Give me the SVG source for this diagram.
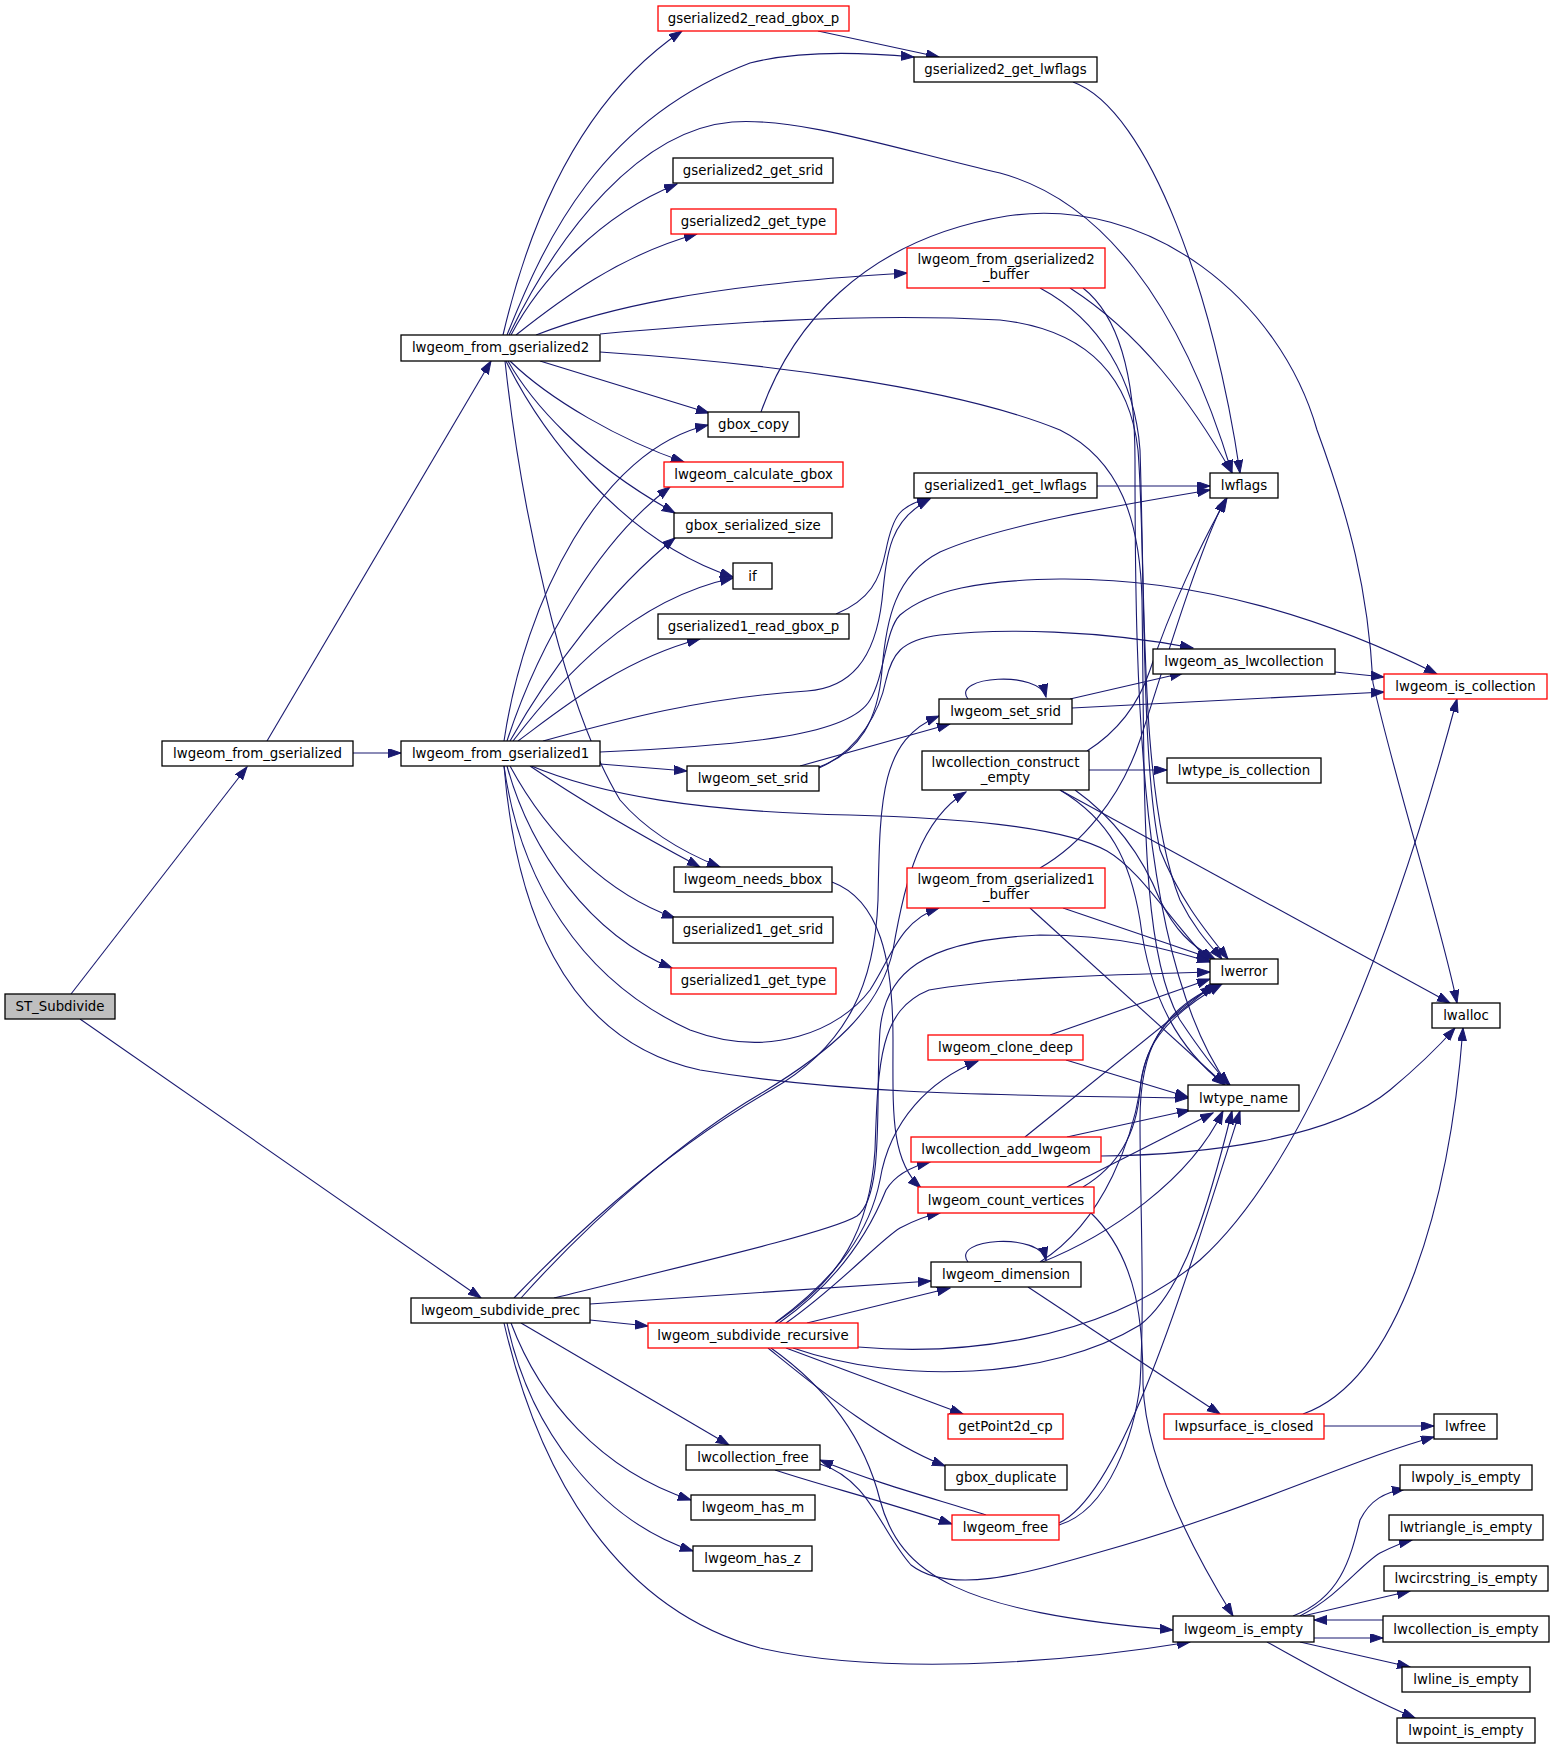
<svg xmlns="http://www.w3.org/2000/svg" width="1555" height="1749" viewBox="0 0 1555 1749">
<style>
.node rect{fill:#ffffff;stroke:#000000;stroke-width:1.3}
.node.red rect{stroke:#ff0000}
.node.root rect{fill:#bfbfbf}
.node text{font-family:"DejaVu Sans","Liberation Sans",sans-serif;font-size:13.33px;text-anchor:middle;fill:#000000}
.e{fill:none;stroke:#191970;stroke-width:1.1;marker-end:url(#ah)}
</style>
<defs>
<marker id="ah" markerUnits="userSpaceOnUse" markerWidth="14" markerHeight="10" refX="13" refY="4.5" orient="auto">
<path d="M0,0 L13,4.5 L0,9 z" fill="#191970" stroke="#191970" stroke-width="1"/>
</marker>
</defs>
<rect x="0" y="0" width="1555" height="1749" fill="#ffffff"/>
<g id="edges">
<path class="e" d="M71,994 L247,767"/>
<path class="e" d="M80,1019 L481,1298"/>
<path class="e" d="M353,753 L401,753"/>
<path class="e" d="M267,741 L491,361"/>
<path class="e" d="M503,335 C530,220 580,100 682,31"/>
<path class="e" d="M507,335 C545,240 600,120 750,63 C800,50 860,52 914,57"/>
<path class="e" d="M509,335 C560,230 640,130 732,122 C800,117 900,150 1000,173 C1100,200 1180,300 1232,473"/>
<path class="e" d="M511,335 C540,280 600,215 677,184"/>
<path class="e" d="M516,335 C560,300 620,255 697,234"/>
<path class="e" d="M536,335 C600,310 700,285 907,273"/>
<path class="e" d="M600,334 C700,325 850,312 1000,320 C1090,330 1130,380 1138,450 C1146,550 1140,760 1160,850 C1180,900 1205,930 1228,959"/>
<path class="e" d="M600,352 C750,362 950,385 1060,430 C1120,460 1140,520 1142,600 C1145,800 1140,950 1180,1020 C1200,1050 1215,1070 1230,1085"/>
<path class="e" d="M540,361 L709,413"/>
<path class="e" d="M510,361 C550,400 620,440 684,462"/>
<path class="e" d="M508,361 C530,400 580,460 675,513"/>
<path class="e" d="M506,361 C540,430 620,540 733,577"/>
<path class="e" d="M505,361 C520,500 560,700 620,800 C650,835 690,855 720,867"/>
<path class="e" d="M504,741 C525,600 600,450 708,425"/>
<path class="e" d="M507,741 C540,640 600,540 670,487"/>
<path class="e" d="M510,741 C550,670 610,590 675,538"/>
<path class="e" d="M513,741 C560,680 630,600 733,578"/>
<path class="e" d="M518,741 C560,710 620,660 700,639"/>
<path class="e" d="M543,741 C620,720 700,698 807,691 C850,688 875,660 882,600 C887,550 890,520 930,499"/>
<path class="e" d="M600,752 C750,745 850,735 870,700 C885,675 885,630 900,615 C930,590 980,580 1060,579 C1200,578 1330,620 1437,674"/>
<path class="e" d="M600,764 L687,771"/>
<path class="e" d="M529,765 C600,795 700,812 850,815 C950,818 1060,825 1107,851 C1140,870 1170,920 1210,962"/>
<path class="e" d="M530,766 C580,800 640,835 700,867"/>
<path class="e" d="M510,766 C550,840 610,895 675,918"/>
<path class="e" d="M507,766 C530,850 590,935 672,968"/>
<path class="e" d="M504,766 C520,880 580,980 690,1030 C770,1060 840,1030 870,990 C890,960 900,920 939,908"/>
<path class="e" d="M504,766 C515,900 560,1040 700,1070 C850,1095 1000,1095 1188,1098"/>
<path class="e" d="M800,766 L950,724"/>
<path class="e" d="M819,767 C860,752 878,720 882,670 C886,620 895,575 940,552 C1000,525 1120,505 1210,490"/>
<path class="e" d="M819,768 C860,750 880,710 886,680 C892,655 900,640 940,635 C1000,628 1100,630 1193,648"/>
<path class="e" d="M968,699 C950,676 1040,670 1046,697"/>
<path class="e" d="M1070,699 L1183,673"/>
<path class="e" d="M1072,708 L1384,692"/>
<path class="e" d="M1335,672 L1384,677"/>
<path class="e" d="M1089,770 L1167,770"/>
<path class="e" d="M1087,751 C1120,730 1140,700 1150,670 C1170,610 1200,545 1227,498"/>
<path class="e" d="M1075,790 C1110,815 1140,850 1160,900 C1175,930 1190,945 1215,959"/>
<path class="e" d="M1060,790 C1110,820 1130,860 1140,920 C1150,1000 1180,1050 1225,1085"/>
<path class="e" d="M1060,790 L1450,1003"/>
<path class="e" d="M1070,288 C1140,333 1190,400 1232,473"/>
<path class="e" d="M1040,288 C1100,320 1135,380 1140,450 C1145,600 1140,800 1180,900 C1195,930 1210,945 1222,959"/>
<path class="e" d="M1083,288 C1120,317 1135,380 1135,460 C1135,700 1140,960 1228,1085"/>
<path class="e" d="M761,412 C790,330 860,240 1007,216 C1150,195 1280,300 1317,430 C1350,520 1368,590 1373,683 C1400,800 1440,920 1457,1003"/>
<path class="e" d="M818,31 L939,57"/>
<path class="e" d="M1073,82 C1150,110 1215,300 1240,473"/>
<path class="e" d="M836,614 C870,600 880,580 886,550 C893,515 900,505 930,498"/>
<path class="e" d="M1097,486 L1210,486"/>
<path class="e" d="M832,882 C880,900 893,960 893,1040 C893,1110 890,1160 921,1188"/>
<path class="e" d="M1040,868 C1080,845 1120,800 1140,740 C1160,680 1195,560 1225,499"/>
<path class="e" d="M1063,908 L1210,958"/>
<path class="e" d="M1030,908 L1225,1085"/>
<path class="e" d="M1050,1035 L1210,979"/>
<path class="e" d="M1066,1060 L1188,1097"/>
<path class="e" d="M1025,1137 L1213,985"/>
<path class="e" d="M1067,1137 L1190,1110"/>
<path class="e" d="M1101,1156 C1200,1155 1330,1140 1390,1090 C1420,1065 1440,1045 1455,1028"/>
<path class="e" d="M1083,1187 C1120,1165 1137,1130 1140,1090 C1143,1050 1160,1020 1222,984"/>
<path class="e" d="M1067,1187 L1213,1113"/>
<path class="e" d="M1090,1212 C1140,1260 1143,1330 1143,1384 C1145,1450 1180,1530 1233,1616"/>
<path class="e" d="M968,1262 C950,1238 1040,1232 1046,1260"/>
<path class="e" d="M1040,1262 C1107,1220 1133,1132 1140,1090 C1145,1040 1170,1010 1218,984"/>
<path class="e" d="M1040,1263 C1110,1235 1190,1180 1223,1111"/>
<path class="e" d="M1028,1287 L1220,1414"/>
<path class="e" d="M514,1298 C560,1250 650,1160 771,1090 C850,1045 875,980 878,900 C880,800 880,740 939,716"/>
<path class="e" d="M521,1298 C600,1210 690,1135 760,1094 C830,1052 880,1010 893,950 C905,880 920,820 966,792"/>
<path class="e" d="M554,1298 C700,1262 830,1232 857,1216 C885,1195 875,1100 880,1030 C885,975 920,940 1040,935 C1120,935 1170,950 1210,962"/>
<path class="e" d="M775,1323 C840,1280 870,1230 875,1150 C878,1060 880,1010 929,990 C1000,978 1100,975 1210,972"/>
<path class="e" d="M590,1304 L931,1281"/>
<path class="e" d="M590,1320 L648,1326"/>
<path class="e" d="M521,1323 L729,1445"/>
<path class="e" d="M511,1323 C540,1400 600,1470 691,1500"/>
<path class="e" d="M507,1323 C530,1430 600,1520 693,1551"/>
<path class="e" d="M504,1323 C540,1480 620,1610 760,1648 C880,1675 1050,1665 1190,1642"/>
<path class="e" d="M775,1323 C840,1275 870,1230 880,1180 C890,1120 930,1080 978,1061"/>
<path class="e" d="M779,1323 C840,1280 870,1230 886,1190 C895,1175 910,1167 930,1162"/>
<path class="e" d="M786,1323 C840,1285 880,1240 900,1228 C915,1220 925,1216 940,1213"/>
<path class="e" d="M807,1323 L950,1288"/>
<path class="e" d="M793,1348 C900,1385 1050,1380 1140,1325 C1185,1290 1210,1200 1232,1111"/>
<path class="e" d="M858,1347 C950,1355 1100,1345 1200,1260 C1300,1170 1390,950 1457,699"/>
<path class="e" d="M786,1348 L963,1414"/>
<path class="e" d="M768,1348 C820,1390 880,1440 945,1466"/>
<path class="e" d="M771,1348 C830,1390 865,1440 880,1500 C900,1575 960,1612 1173,1630"/>
<path class="e" d="M775,1470 C820,1485 880,1500 952,1524"/>
<path class="e" d="M986,1515 C940,1500 880,1485 820,1460"/>
<path class="e" d="M820,1464 C870,1480 880,1530 911,1565 C950,1595 1020,1575 1100,1552 C1250,1510 1350,1460 1434,1437"/>
<path class="e" d="M1059,1525 C1110,1510 1135,1430 1140,1384 C1145,1300 1140,1200 1140,1120 C1140,1050 1160,1010 1220,984"/>
<path class="e" d="M1059,1523 C1120,1495 1180,1300 1240,1111"/>
<path class="e" d="M1324,1426 L1434,1426"/>
<path class="e" d="M1303,1414 C1400,1380 1450,1200 1463,1028"/>
<path class="e" d="M1293,1616 C1340,1598 1350,1560 1360,1520 C1370,1500 1385,1492 1405,1489"/>
<path class="e" d="M1300,1616 C1340,1595 1360,1565 1380,1553 C1390,1548 1400,1543 1412,1540"/>
<path class="e" d="M1303,1616 L1410,1591"/>
<path class="e" d="M1314,1638 L1383,1638"/>
<path class="e" d="M1383,1620 L1314,1620"/>
<path class="e" d="M1300,1642 L1410,1667"/>
<path class="e" d="M1267,1642 C1300,1660 1360,1695 1415,1718"/>
</g>
<g id="n_st" class="node root"><rect x="5" y="994" width="110" height="25"/><text x="60" y="1011">ST_Subdivide</text></g>
<g id="n_lfg" class="node"><rect x="162" y="741" width="191" height="25"/><text x="257.5" y="758">lwgeom_from_gserialized</text></g>
<g id="n_lfg1" class="node"><rect x="401" y="741" width="199" height="25"/><text x="500.5" y="758">lwgeom_from_gserialized1</text></g>
<g id="n_lfg2" class="node"><rect x="401" y="335" width="199" height="26"/><text x="500.5" y="352">lwgeom_from_gserialized2</text></g>
<g id="n_g2rgb" class="node red"><rect x="658" y="6" width="191" height="25"/><text x="753.5" y="23">gserialized2_read_gbox_p</text></g>
<g id="n_g2lf" class="node"><rect x="914" y="57" width="183" height="25"/><text x="1005.5" y="74">gserialized2_get_lwflags</text></g>
<g id="n_g2srid" class="node"><rect x="673" y="158" width="160" height="25"/><text x="753" y="175">gserialized2_get_srid</text></g>
<g id="n_g2type" class="node red"><rect x="671" y="209" width="165" height="25"/><text x="753.5" y="226">gserialized2_get_type</text></g>
<g id="n_lfg2b" class="node red"><rect x="907" y="248" width="198" height="40"/><text x="1006" y="264">lwgeom_from_gserialized2</text><text x="1006" y="279">_buffer</text></g>
<g id="n_gbcopy" class="node"><rect x="708" y="412" width="91" height="25"/><text x="753.5" y="429">gbox_copy</text></g>
<g id="n_lcg" class="node red"><rect x="664" y="462" width="179" height="25"/><text x="753.5" y="479">lwgeom_calculate_gbox</text></g>
<g id="n_g1lf" class="node"><rect x="914" y="473" width="183" height="25"/><text x="1005.5" y="490">gserialized1_get_lwflags</text></g>
<g id="n_lwflags" class="node"><rect x="1210" y="473" width="68" height="25"/><text x="1244" y="490">lwflags</text></g>
<g id="n_gbss" class="node"><rect x="674" y="513" width="158" height="25"/><text x="753" y="530">gbox_serialized_size</text></g>
<g id="n_if" class="node"><rect x="733" y="563" width="39" height="26"/><text x="752.5" y="581">if</text></g>
<g id="n_g1rgb" class="node"><rect x="658" y="614" width="191" height="25"/><text x="753.5" y="631">gserialized1_read_gbox_p</text></g>
<g id="n_asc" class="node"><rect x="1153" y="649" width="182" height="25"/><text x="1244" y="666">lwgeom_as_lwcollection</text></g>
<g id="n_isc" class="node red"><rect x="1384" y="674" width="163" height="25"/><text x="1465.5" y="691">lwgeom_is_collection</text></g>
<g id="n_srid2" class="node"><rect x="939" y="699" width="133" height="25"/><text x="1005.5" y="716">lwgeom_set_srid</text></g>
<g id="n_cce" class="node"><rect x="922" y="751" width="167" height="39"/><text x="1005.5" y="767">lwcollection_construct</text><text x="1005.5" y="782">_empty</text></g>
<g id="n_tic" class="node"><rect x="1167" y="758" width="154" height="25"/><text x="1244" y="775">lwtype_is_collection</text></g>
<g id="n_srid1" class="node"><rect x="687" y="766" width="132" height="25"/><text x="753" y="783">lwgeom_set_srid</text></g>
<g id="n_nbb" class="node"><rect x="674" y="867" width="158" height="25"/><text x="753" y="884">lwgeom_needs_bbox</text></g>
<g id="n_lfg1b" class="node red"><rect x="907" y="868" width="198" height="40"/><text x="1006" y="884">lwgeom_from_gserialized1</text><text x="1006" y="899">_buffer</text></g>
<g id="n_g1srid" class="node"><rect x="673" y="917" width="160" height="26"/><text x="753" y="934">gserialized1_get_srid</text></g>
<g id="n_lwerror" class="node"><rect x="1210" y="959" width="68" height="25"/><text x="1244" y="976">lwerror</text></g>
<g id="n_g1type" class="node red"><rect x="671" y="968" width="165" height="26"/><text x="753.5" y="985">gserialized1_get_type</text></g>
<g id="n_lwalloc" class="node"><rect x="1432" y="1003" width="68" height="25"/><text x="1466" y="1020">lwalloc</text></g>
<g id="n_clone" class="node red"><rect x="928" y="1035" width="155" height="25"/><text x="1005.5" y="1052">lwgeom_clone_deep</text></g>
<g id="n_tname" class="node"><rect x="1188" y="1085" width="111" height="26"/><text x="1243.5" y="1103">lwtype_name</text></g>
<g id="n_addg" class="node red"><rect x="911" y="1137" width="190" height="25"/><text x="1006" y="1154">lwcollection_add_lwgeom</text></g>
<g id="n_cv" class="node red"><rect x="918" y="1187" width="176" height="26"/><text x="1006" y="1205">lwgeom_count_vertices</text></g>
<g id="n_dim" class="node"><rect x="931" y="1262" width="150" height="25"/><text x="1006" y="1279">lwgeom_dimension</text></g>
<g id="n_prec" class="node"><rect x="411" y="1298" width="179" height="25"/><text x="500.5" y="1315">lwgeom_subdivide_prec</text></g>
<g id="n_rec" class="node red"><rect x="648" y="1323" width="210" height="25"/><text x="753" y="1340">lwgeom_subdivide_recursive</text></g>
<g id="n_gp2d" class="node red"><rect x="948" y="1414" width="115" height="25"/><text x="1005.5" y="1431">getPoint2d_cp</text></g>
<g id="n_psc" class="node red"><rect x="1164" y="1414" width="160" height="25"/><text x="1244" y="1431">lwpsurface_is_closed</text></g>
<g id="n_lwfree" class="node"><rect x="1434" y="1414" width="63" height="25"/><text x="1465.5" y="1431">lwfree</text></g>
<g id="n_cfree" class="node"><rect x="686" y="1445" width="134" height="25"/><text x="753" y="1462">lwcollection_free</text></g>
<g id="n_gbdup" class="node"><rect x="945" y="1465" width="122" height="25"/><text x="1006" y="1482">gbox_duplicate</text></g>
<g id="n_polye" class="node"><rect x="1400" y="1465" width="132" height="25"/><text x="1466" y="1482">lwpoly_is_empty</text></g>
<g id="n_hasm" class="node"><rect x="691" y="1495" width="124" height="25"/><text x="753" y="1512">lwgeom_has_m</text></g>
<g id="n_gfree" class="node red"><rect x="952" y="1515" width="107" height="25"/><text x="1005.5" y="1532">lwgeom_free</text></g>
<g id="n_trie" class="node"><rect x="1389" y="1515" width="154" height="25"/><text x="1466" y="1532">lwtriangle_is_empty</text></g>
<g id="n_hasz" class="node"><rect x="693" y="1546" width="119" height="25"/><text x="752.5" y="1563">lwgeom_has_z</text></g>
<g id="n_circe" class="node"><rect x="1384" y="1566" width="164" height="25"/><text x="1466" y="1583">lwcircstring_is_empty</text></g>
<g id="n_isempty" class="node"><rect x="1173" y="1616" width="141" height="26"/><text x="1243.5" y="1634">lwgeom_is_empty</text></g>
<g id="n_colle" class="node"><rect x="1383" y="1616" width="166" height="26"/><text x="1466" y="1634">lwcollection_is_empty</text></g>
<g id="n_linee" class="node"><rect x="1402" y="1667" width="128" height="25"/><text x="1466" y="1684">lwline_is_empty</text></g>
<g id="n_pte" class="node"><rect x="1397" y="1718" width="138" height="25"/><text x="1466" y="1735">lwpoint_is_empty</text></g>
</svg>
